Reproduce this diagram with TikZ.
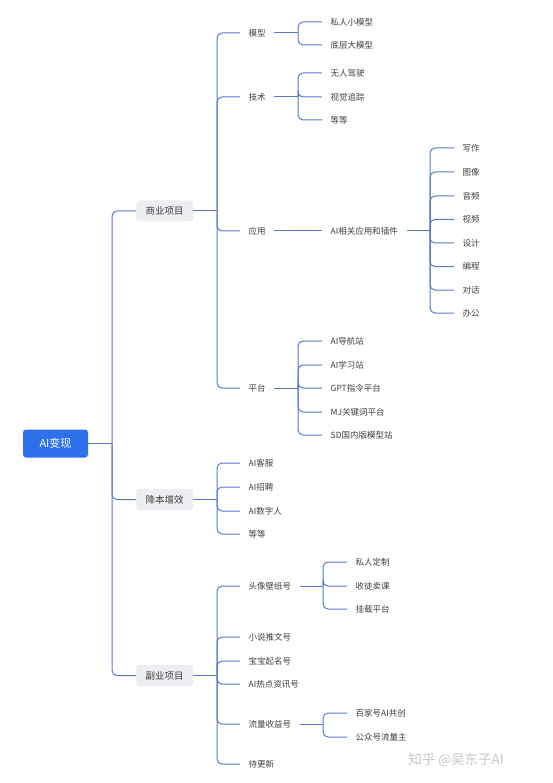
\documentclass[tikz,border=0pt]{standalone}
\usepackage{fontspec}
\setmainfont{Noto Sans CJK SC}
\usepackage{tikz}

\definecolor{linkblue}{RGB}{86,122,206}
\definecolor{rootblue}{RGB}{46,112,236}
\definecolor{boxgray}{RGB}{237,238,241}
\definecolor{textgray}{RGB}{62,62,62}

\begin{document}
\begin{tikzpicture}[x=1pt, y=-1pt, font=\fontsize{8.5}{10}\selectfont]
	\tikzstyle{link} = [draw=linkblue, line width=1pt, rounded corners=5pt]
	\tikzstyle{elbow} = [link, to path={|- (\tikztotarget)}]
	\tikzstyle{leaf} = [anchor=west, inner xsep=8.5pt, inner ysep=2pt, text=textgray]
	\tikzstyle{topic} = [anchor=west, fill=boxgray, rounded corners=3pt, minimum width=57pt,
	minimum height=21pt, text=textgray, font=\fontsize{9.5}{11}\selectfont]
	\tikzstyle{rootbox} = [fill=rootblue, rounded corners=3pt, minimum width=65pt,
	minimum height=28pt, text=white, font=\fontsize{11}{13}\selectfont]

	\useasboundingbox (0,0) rectangle (553,783);

	\path
		node[rootbox] (ai) at (55.5,443.5) {AI变现}
		coordinate (j0) at (112,443.5)

		node[topic] (biz) at (136,211) {商业项目}
		node[topic] (cost) at (136,499.5) {降本增效}
		node[topic] (side) at (136,675.5) {副业项目}

		(ai) edge[link] (j0)
		(j0) edge[elbow] (biz.west)
		(j0) edge[elbow] (cost.west)
		(j0) edge[elbow] (side.west)
	;

	\path
		coordinate (jb) at (217,211)
		node[leaf] (model) at (240,33) {模型}
		node[leaf] (tech) at (240,97) {技术}
		node[leaf] (app) at (240,231) {应用}
		node[leaf] (plat) at (240,388) {平台}

		(biz) edge[link] (jb)
		(jb) edge[elbow] (model.west)
		(jb) edge[elbow] (tech.west)
		(jb) edge[elbow] (app.west)
		(jb) edge[elbow] (plat.west)

		coordinate (jm) at (298,33)
		node[leaf] (small) at (322,22) {私人小模型}
		node[leaf] (large) at (322,45) {底层大模型}
		(model) edge[link] (jm)
		(jm) edge[elbow] (small.west)
		(jm) edge[elbow] (large.west)

		coordinate (jt) at (298,97)
		node[leaf] (drive) at (322,73) {无人驾驶}
		node[leaf] (track) at (322,97) {视觉追踪}
		node[leaf] (etc1) at (322,120) {等等}
		(tech) edge[link] (jt)
		(jt) edge[elbow] (drive.west)
		(jt) edge[elbow] (track.west)
		(jt) edge[elbow] (etc1.west)

		node[leaf] (plug) at (322,231) {AI相关应用和插件}
		(app) edge[link] (plug.west)

		coordinate (jp) at (430,231)
		node[leaf] (write) at (454,148) {写作}
		node[leaf] (image) at (454,172) {图像}
		node[leaf] (audio) at (454,196) {音频}
		node[leaf] (video) at (454,219.5) {视频}
		node[leaf] (design) at (454,243) {设计}
		node[leaf] (code) at (454,266.5) {编程}
		node[leaf] (chat) at (454,290) {对话}
		node[leaf] (office) at (454,313) {办公}
		(plug) edge[link] (jp)
		(jp) edge[elbow] (write.west)
		(jp) edge[elbow] (image.west)
		(jp) edge[elbow] (audio.west)
		(jp) edge[elbow] (video.west)
		(jp) edge[elbow] (design.west)
		(jp) edge[elbow] (code.west)
		(jp) edge[elbow] (chat.west)
		(jp) edge[elbow] (office.west)

		coordinate (jf) at (298,388)
		node[leaf] (nav) at (322,341) {AI导航站}
		node[leaf] (learn) at (322,365) {AI学习站}
		node[leaf] (gpt) at (322,388) {GPT指令平台}
		node[leaf] (mj) at (322,412) {MJ关键词平台}
		node[leaf] (sd) at (322,435) {SD国内版模型站}
		(plat) edge[link] (jf)
		(jf) edge[elbow] (nav.west)
		(jf) edge[elbow] (learn.west)
		(jf) edge[elbow] (gpt.west)
		(jf) edge[elbow] (mj.west)
		(jf) edge[elbow] (sd.west)
	;

	\path
		coordinate (jc) at (217,499.5)
		node[leaf] (service) at (240,463) {AI客服}
		node[leaf] (hire) at (240,487) {AI招聘}
		node[leaf] (human) at (240,511) {AI数字人}
		node[leaf] (etc2) at (240,534) {等等}

		(cost) edge[link] (jc)
		(jc) edge[elbow] (service.west)
		(jc) edge[elbow] (hire.west)
		(jc) edge[elbow] (human.west)
		(jc) edge[elbow] (etc2.west)
	;

	\path
		coordinate (js) at (217,675.5)
		node[leaf] (avatar) at (240,586) {头像壁纸号}
		node[leaf] (novel) at (240,637) {小说推文号}
		node[leaf] (baby) at (240,661) {宝宝起名号}
		node[leaf] (news) at (240,684) {AI热点资讯号}
		node[leaf] (traffic) at (240,724) {流量收益号}
		node[leaf] (todo) at (240,764) {待更新}

		(side) edge[link] (js)
		(js) edge[elbow] (avatar.west)
		(js) edge[elbow] (novel.west)
		(js) edge[elbow] (baby.west)
		(js) edge[elbow] (news.west)
		(js) edge[elbow] (traffic.west)
		(js) edge[elbow] (todo.west)

		coordinate (ja) at (323,586)
		node[leaf] (custom) at (347,562) {私人定制}
		node[leaf] (course) at (347,586) {收徒卖课}
		node[leaf] (mount) at (347,609) {挂载平台}
		(avatar) edge[link] (ja)
		(ja) edge[elbow] (custom.west)
		(ja) edge[elbow] (course.west)
		(ja) edge[elbow] (mount.west)

		coordinate (jr) at (323,724)
		node[leaf] (baijia) at (347,713) {百家号AI共创}
		node[leaf] (wechat) at (347,737) {公众号流量主}
		(traffic) edge[link] (jr)
		(jr) edge[elbow] (baijia.west)
		(jr) edge[elbow] (wechat.west)
	;

	\node[text=black!22, font=\fontsize{13.5}{15}\selectfont] (mark) at (456,760) {知乎 @吴东子AI};
\end{tikzpicture}
\end{document}
